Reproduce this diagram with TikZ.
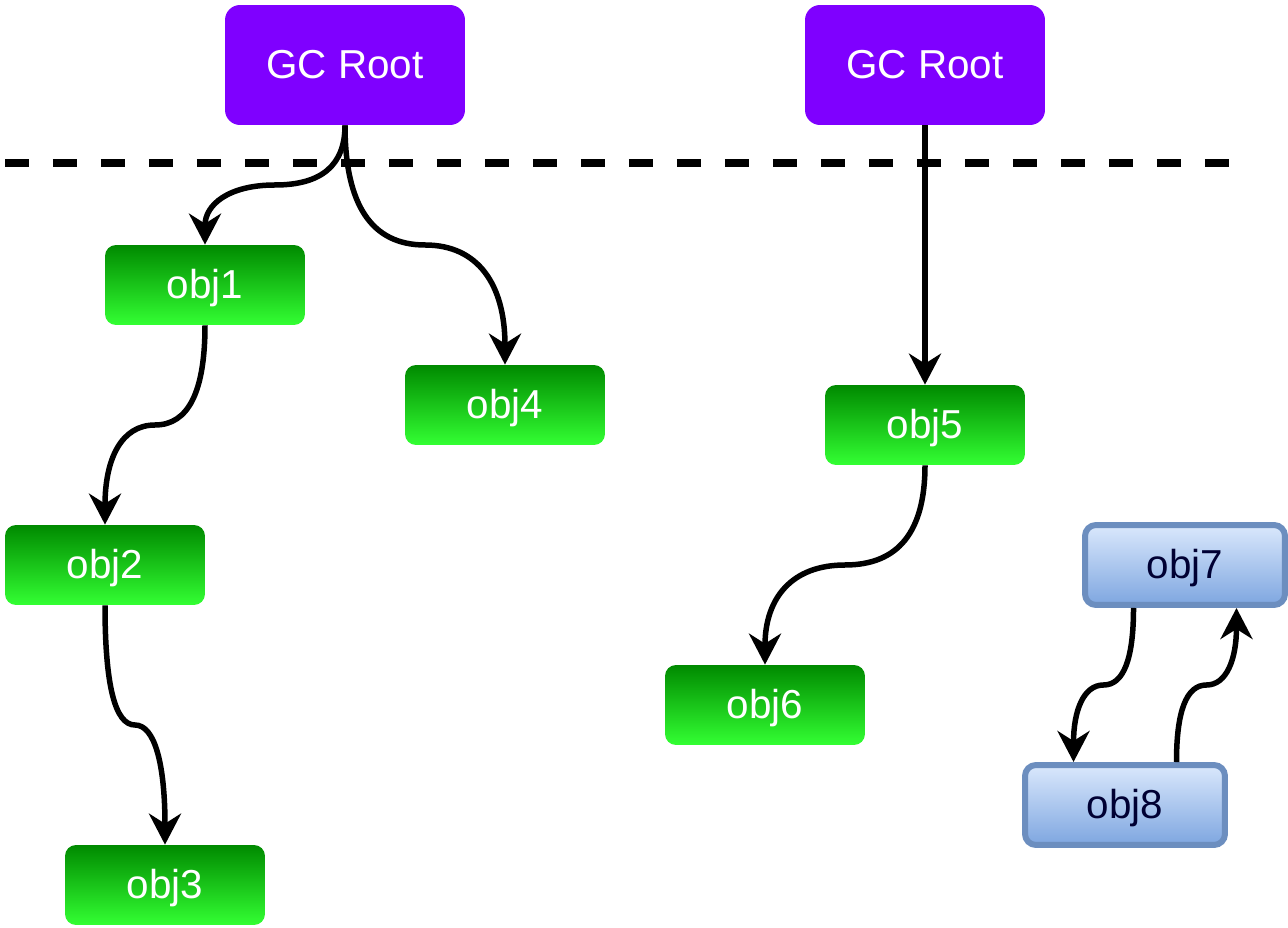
\documentclass[tikz,border=0pt]{standalone}
\usepackage{fontspec}
\setmainfont{Liberation Sans}
\usetikzlibrary{arrows.meta,calc}

\definecolor{rootpurple}{RGB}{127,0,255}
\definecolor{livetop}{RGB}{0,138,0}
\definecolor{livebot}{RGB}{51,255,51}
\definecolor{deadtop}{RGB}{218,232,252}
\definecolor{deadbot}{RGB}{126,166,224}
\definecolor{deadline}{RGB}{108,142,191}
\definecolor{deadtext}{RGB}{0,0,51}

\tikzset{
  boxtext/.style={font=\fontsize{23}{27}\selectfont, text height=15.5pt, text depth=0pt},
  root/.style={rectangle, rounded corners=0.3cm, fill=rootpurple, text=white,
    minimum width=4.8cm, minimum height=2.4cm, boxtext},
  live/.style={rectangle, rounded corners=0.22cm, top color=livetop, bottom color=livebot,
    text=white, minimum width=4cm, minimum height=1.6cm, boxtext},
  dead/.style={rectangle, rounded corners=0.22cm, draw=deadline, line width=0.12cm,
    top color=deadtop, bottom color=deadbot, text=deadtext,
    minimum width=4cm, minimum height=1.6cm, boxtext},
  link/.style={line width=0.11cm, -{Stealth[length=0.62cm,width=0.64cm,inset=0.2cm]}},
  swing/.style={to path={let \p1=(\tikztostart), \p2=(\tikztotarget) in
    .. controls (\x1,{\y1+(\y2-\y1)/3}) and ({\x1+(\x2-\x1)/6},{(\y1+\y2)/2})
    .. ({(\x1+\x2)/2},{(\y1+\y2)/2})
    .. controls ({\x1+5*(\x2-\x1)/6},{(\y1+\y2)/2}) and (\x2,{\y2-(\y2-\y1)/3})
    .. (\tikztotarget) \tikztonodes}},
  cutline/.style={line width=0.16cm, dash pattern=on 0.48cm off 0.48cm}
}

\begin{document}
\begin{tikzpicture}[x=0.02cm,y=-0.02cm]
    \useasboundingbox (0,0) rectangle (1288,928);
    % roots
    \node[root] (gc1) at (345,65) {GC Root};
    \node[root] (gc2) at (925,65) {GC Root};
    \draw[cutline] (5,163) -- (1230,163);
    % reachable objects
    \node[live] (obj1) at (205,285) {obj1};
    \node[live] (obj2) at (105,565) {obj2};
    \node[live] (obj3) at (165,885) {obj3};
    \node[live] (obj4) at (505,405) {obj4};
    \node[live] (obj5) at (925,425) {obj5};
    \node[live] (obj6) at (765,705) {obj6};
    % unreachable cycle
    \node[dead] (obj7) at (1185,565) {obj7};
    \node[dead] (obj8) at (1125,805) {obj8};
    % references
    \draw[link] (gc1.south) to[swing] (obj1.north);
    \draw[link] (gc1.south) to[swing] (obj4.north);
    \draw[link] (obj1.south) to[swing] (obj2.north);
    \draw[link] (obj2.south) to[swing] (obj3.north);
    \draw[link] (gc2.south) -- (obj5.north);
    \draw[link] (obj5.south) to[swing] (obj6.north);
    \draw[link] ($(obj7.south west)!0.25!(obj7.south east)$) to[swing] ($(obj8.north west)!0.25!(obj8.north east)$);
    \draw[link] ($(obj8.north west)!0.75!(obj8.north east)$) to[swing] ($(obj7.south west)!0.75!(obj7.south east)$);
\end{tikzpicture}
\end{document}
